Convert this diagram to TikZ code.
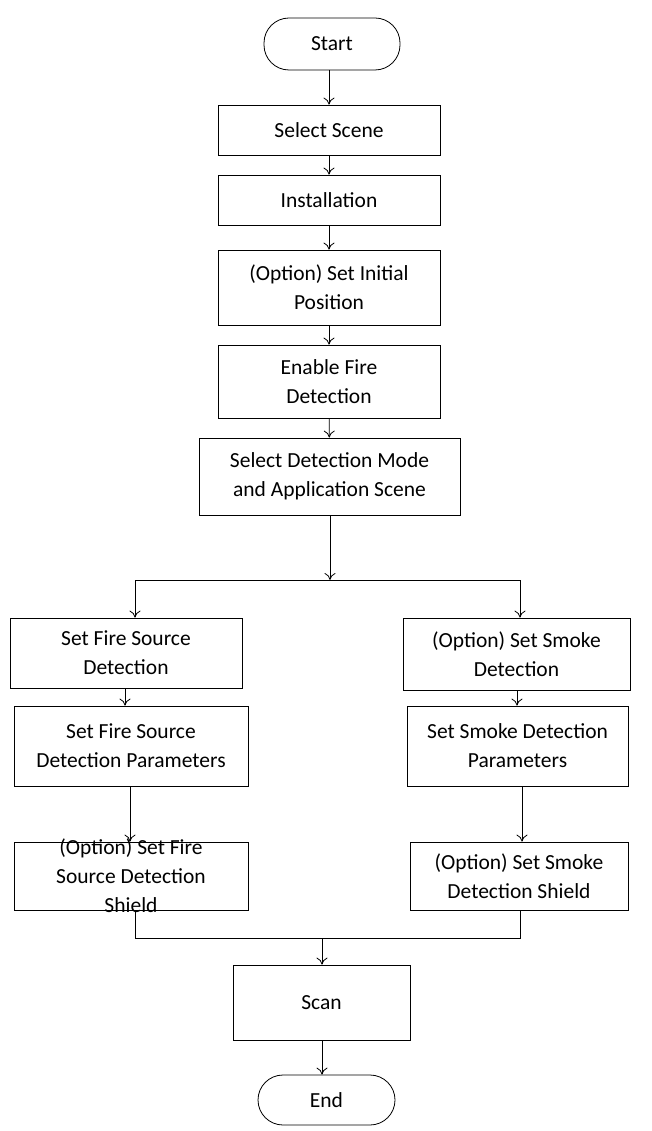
\documentclass[tikz,border=0pt]{standalone}
\usepackage{fontspec}
\setmainfont{Carlito}
\usetikzlibrary{arrows.meta}
\begin{document}
\begin{tikzpicture}[x=1pt,y=-1pt,
  box/.style={draw,line width=0.8pt,align=center,font=\fontsize{21.5}{29}\selectfont,inner sep=0pt},
  term/.style={box,rounded corners=25pt},
  arr/.style={-{To[length=7pt,width=11pt]},line width=0.8pt},
  ln/.style={line width=0.8pt}]
\useasboundingbox (0,0) rectangle (651,1131);
\newcommand{\bx}[6]{\node[#1,minimum width=#4-#3,minimum height=#6-#5] (#2) at ({(#3+#4)/2},{(#5+#6)/2})}
\bx{term}{start}{264}{400}{18}{70}{Start};
\bx{box}{scene}{218}{440}{105}{155}{Select Scene};
\bx{box}{inst}{218}{440}{175}{225}{Installation};
\bx{box}{init}{218}{440}{250}{325}{(Option) Set Initial\\Position};
\bx{box}{fire}{218}{440}{345}{418}{Enable Fire\\Detection};
\bx{box}{mode}{199}{460}{438}{515}{Select Detection Mode\\and Application Scene};
\bx{box}{l1}{10}{242}{618}{688}{Set Fire Source\\Detection};
\bx{box}{r1}{403}{630}{618}{690}{(Option) Set Smoke\\Detection};
\bx{box}{l2}{14}{248}{706}{786}{Set Fire Source\\Detection Parameters};
\bx{box}{r2}{407}{628}{706}{786}{Set Smoke Detection\\Parameters};
\bx{box}{l3}{14}{248}{842}{910}{};
\node[box,draw=none] (l3t) at (l3.center) {(Option) Set Fire\\Source Detection\\Shield};
\bx{box}{r3}{410}{628}{842}{910}{(Option) Set Smoke\\Detection Shield};
\bx{box}{scan}{233}{410}{965}{1040}{Scan};
\bx{term}{end}{258}{395}{1075}{1125}{End};
\draw[arr] (start.south -| scene) -- (scene);
\draw[arr] (scene) -- (inst);
\draw[arr] (inst) -- (init);
\draw[arr] (init) -- (fire);
\draw[arr] (fire) -- (mode);
\coordinate (sp) at (330,580);
\coordinate (sl) at (135,580);
\coordinate (sr) at (520,580);
\draw[arr] (mode.south -| sp) -- (sp);
\draw[ln] (sl) -- (sr);
\draw[arr] (sl) -- (sl |- l1.north);
\draw[arr] (sr) -- (sr |- r1.north);
\draw[arr] (l1.south -| 125,0) -- (l2.north -| 125,0);
\draw[arr] (r1.south -| 517,0) -- (r2.north -| 517,0);
\draw[arr] (l2.south -| 130,0) -- (l3.north -| 130,0);
\draw[arr] (r2.south -| 522,0) -- (r3.north -| 522,0);
\coordinate (ml) at (135,938);
\coordinate (mr) at (520,938);
\coordinate (mm) at (322,938);
\draw[ln] (l3.south -| ml) -- (ml) -- (mr) -- (r3.south -| mr);
\draw[arr] (mm) -- (scan.north -| mm);
\draw[arr] (scan.south -| mm) -- (end.north -| mm);
\end{tikzpicture}
\end{document}
